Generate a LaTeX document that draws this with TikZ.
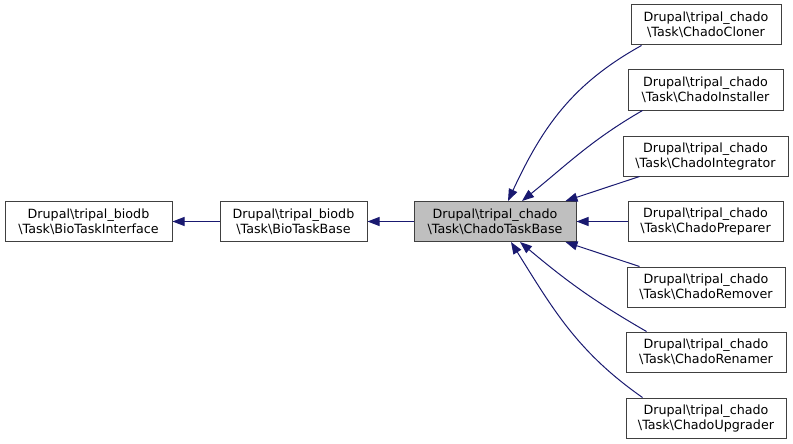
\documentclass[tikz,border=0pt]{standalone}
\usepackage{fontspec}
\setmainfont{DejaVu Sans}
\usepackage{tikz}
\usetikzlibrary{arrows.meta}
\definecolor{edgeblue}{HTML}{191970}
\def\clsname#1#2{Drupal\textbackslash tripal\_#1\\\textbackslash Task\textbackslash #2}
\tikzset{
	cls/.style={draw=black!75, line width=1pt, fill=white, align=center, minimum height=40pt, inner sep=0pt, font=\fontsize{12.7}{15}\selectfont},
	edge/.style={line width=1pt, color=edgeblue, -{Triangle[length=12pt,width=9pt]}}
}

\begin{document}
\begin{tikzpicture}[x=1pt, y=1pt]
			%%%%% START %%%%%
			\useasboundingbox (0, 0) rectangle (793, -444);
			
			\node[cls, minimum width=167pt] (iface) at (88.5, -221.5) {\clsname{biodb}{BioTaskInterface}};
			\node[cls, minimum width=147pt] (base) at (293.5, -221.5) {\clsname{biodb}{BioTaskBase}};
			\node[cls, minimum width=162pt, fill=black!25] (taskbase) at (495, -221.5) {\clsname{chado}{ChadoTaskBase}};
			
			\node[cls, minimum width=150pt] (cloner) at (706, -25) {\clsname{chado}{ChadoCloner}};
			\node[cls, minimum width=155pt] (installer) at (705.5, -90) {\clsname{chado}{ChadoInstaller}};
			\node[cls, minimum width=165pt] (integrator) at (705.5, -156) {\clsname{chado}{ChadoIntegrator}};
			\node[cls, minimum width=155pt] (preparer) at (705.5, -221.5) {\clsname{chado}{ChadoPreparer}};
			\node[cls, minimum width=158pt] (remover) at (706, -287) {\clsname{chado}{ChadoRemover}};
			\node[cls, minimum width=160pt] (renamer) at (706, -352) {\clsname{chado}{ChadoRenamer}};
			\node[cls, minimum width=160pt] (upgrader) at (706, -418) {\clsname{chado}{ChadoUpgrader}};
			
			\draw[edge] (base) -- (iface);
			\draw[edge] (taskbase) -- (base);
			
			\draw[edge] ([xshift=11pt]cloner.south west) to[out=209, in=65] ([xshift=13pt]taskbase.north);
			\draw[edge] ([xshift=15pt]installer.south west) to[out=210, in=39] ([xshift=27pt]taskbase.north);
			\draw[edge] ([xshift=17pt]integrator.south west) -- ([xshift=-11pt]taskbase.north east);
			\draw[edge] (preparer) -- (taskbase);
			\draw[edge] ([xshift=13pt]remover.north west) -- ([xshift=-11pt]taskbase.south east);
			\draw[edge] ([xshift=21pt]renamer.north west) to[out=150, in=-40] ([xshift=25pt]taskbase.south);
			\draw[edge] ([xshift=17pt]upgrader.north west) to[out=145, in=-58] ([xshift=16pt]taskbase.south);
			
			%%%%% END %%%%%
\end{tikzpicture}
\end{document}
